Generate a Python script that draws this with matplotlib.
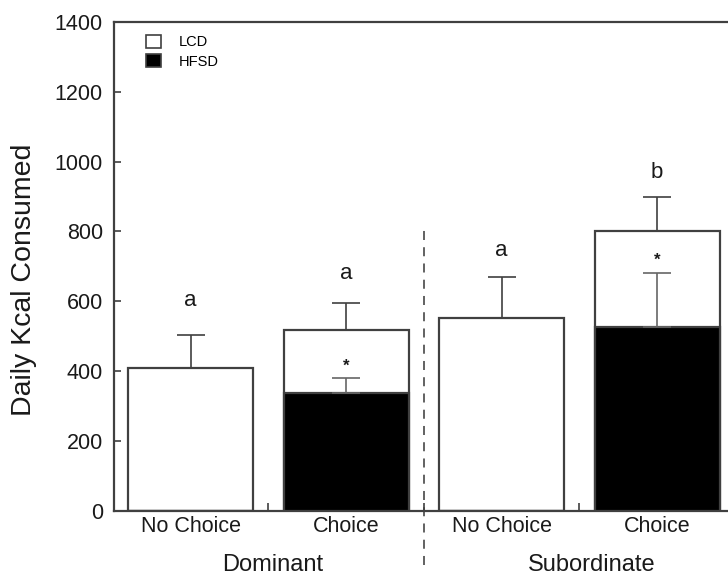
import matplotlib.pyplot as plt
from matplotlib.patches import Patch

# Data
groups = ['Dominant', 'Subordinate']
conditions = ['No Choice', 'Choice', 'No Choice', 'Choice']
total_kcal = [408, 517, 551, 802]      # full bar height (LCD + HFSD)
total_sem = [95, 77, 118, 98]
hfsd_kcal = [0, 336, 0, 525]           # black part of the stacked bars
hfsd_sem = [0, 45, 0, 157]
letters = ['a', 'a', 'a', 'b']
letter_y = [603, 681, 745, 970]
star_y = [None, 415, None, 718]

edge = '#404040'
txt = '#1a1a1a'

plt.rcParams['font.family'] = ['Liberation Sans', 'DejaVu Sans']

fig = plt.figure(figsize=(7.28, 5.78), dpi=100)
ax = fig.add_axes([0.1566, 0.1164, 0.8434, 0.8455])

x = list(range(len(conditions)))
width = 0.804

# LCD (white) = full bar, HFSD (black) drawn on top of it from zero
ax.bar(x, total_kcal, width=width, color='white', edgecolor=edge, linewidth=1.6, zorder=2)
ax.bar(x, hfsd_kcal, width=width, color='black', edgecolor=edge, linewidth=1.6, zorder=3)

# only upper error bars
ax.errorbar(x, total_kcal, yerr=[[0] * 4, total_sem], fmt='none', ecolor=edge,
            elinewidth=1.2, capsize=10, capthick=1.2, zorder=1)
for i in x:
    if hfsd_kcal[i] > 0:
        ax.errorbar(i, hfsd_kcal[i], yerr=[[0], [hfsd_sem[i]]], fmt='none', ecolor='#666666',
                    elinewidth=1.2, capsize=10, capthick=1.2, zorder=4)
        ax.text(i, star_y[i], '*', ha='center', va='center', fontsize=12,
                fontweight='bold', color=txt, zorder=5)

for i in x:
    ax.text(i, letter_y[i], letters[i], ha='center', va='center', fontsize=16, color=txt)

# dashed divider between groups, runs below the axis
ax.plot([1.5, 1.5], [-155, 818], ls=(0, (5, 4)), color='#555555', lw=1.3, clip_on=False, zorder=1)

ax.set_xlim(-0.492, 3.456)
ax.set_ylim(0, 1400)
ax.set_yticks(range(0, 1401, 200))
ax.set_xticks([0.5, 1.5, 2.5])
ax.set_xticklabels([])
ax.tick_params(axis='y', direction='in', length=5, width=1.2, color=edge,
               labelsize=15.5, pad=8, labelcolor=txt)
ax.tick_params(axis='x', direction='in', length=6, width=1.2, color=edge)

for i, c in enumerate(conditions):
    ax.text(i, -45, c, ha='center', va='center', fontsize=15.5, color=txt)
ax.text(0.53, -155, groups[0], ha='center', va='center', fontsize=17, color=txt)
ax.text(2.58, -155, groups[1], ha='center', va='center', fontsize=17, color=txt)

for s in ['left', 'bottom', 'top']:
    ax.spines[s].set_color(edge)
    ax.spines[s].set_linewidth(1.6)
ax.spines['right'].set_visible(False)

fig.text(24 / 728, 1 - 280 / 578, 'Daily Kcal Consumed', rotation=90,
         ha='center', va='center', fontsize=20.5, color=txt)

handles = [Patch(facecolor='white', edgecolor=edge, linewidth=1.2, label='LCD'),
           Patch(facecolor='black', edgecolor=edge, linewidth=1.2, label='HFSD')]
ax.legend(handles=handles, loc='upper left', bbox_to_anchor=(0.036, 0.995), frameon=False,
          fontsize=10.5, handlelength=1.0, handleheight=1.0, labelspacing=0.35,
          handletextpad=1.2, borderaxespad=0.3)

fig.savefig('out.png', dpi=100)
